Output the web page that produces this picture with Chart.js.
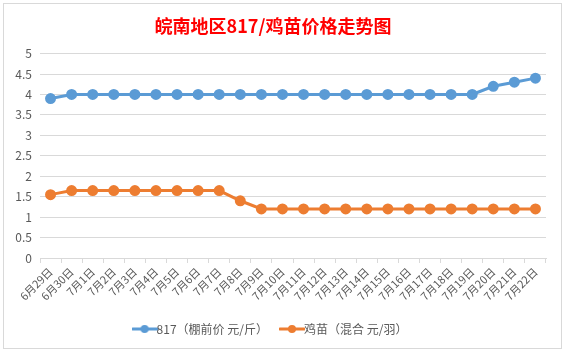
<!DOCTYPE html>
<html><head><meta charset="utf-8">
<script src="https://cdn.jsdelivr.net/npm/chart.js@4/dist/chart.umd.min.js"></script>
<style>html,body{margin:0;padding:0;background:#fff;}#wrap{width:563px;height:352px;}</style>
</head><body><div id="wrap"><canvas id="c" width="563" height="352"></canvas></div>
<script>
const categories = ["6月29日","6月30日","7月1日","7月2日","7月3日","7月4日","7月5日","7月6日","7月7日","7月8日","7月9日","7月10日","7月11日","7月12日","7月13日","7月14日","7月15日","7月16日","7月17日","7月18日","7月19日","7月20日","7月21日","7月22日"];
const price817 = [3.9,4,4,4,4,4,4,4,4,4,4,4,4,4,4,4,4,4,4,4,4,4.2,4.3,4.4];
const chickPrice = [1.55,1.65,1.65,1.65,1.65,1.65,1.65,1.65,1.65,1.4,1.2,1.2,1.2,1.2,1.2,1.2,1.2,1.2,1.2,1.2,1.2,1.2,1.2,1.2];
const seriesNames = ["817（棚前价 元/斤）","鸡苗（混合 元/羽）"];
const titleText = "皖南地区817/鸡苗价格走势图";
const FONT = "'Noto Sans CJK SC', 'Noto Sans', sans-serif";
const BLUE = "#5B9BD5", ORANGE = "#ED7D31";

function markerIcon(color){
  const cv = document.createElement('canvas'); cv.width = 26; cv.height = 10;
  const g = cv.getContext('2d');
  g.strokeStyle = color; g.lineWidth = 3; g.lineCap='round';
  g.beginPath(); g.moveTo(1,5); g.lineTo(25,5); g.stroke();
  g.fillStyle = color; g.beginPath(); g.arc(13,5,4,0,Math.PI*2); g.fill();
  return cv;
}
const borderPlugin = {
  id:'frame',
  beforeDraw(chart){
    const ctx = chart.ctx; ctx.save();
    ctx.fillStyle='#fff'; ctx.fillRect(0,0,chart.width,chart.height);
    ctx.strokeStyle='#d9d9d9'; ctx.lineWidth=1;
    ctx.strokeRect(3.5,3.5,558,345);
    ctx.restore();
  }
};
new Chart(document.getElementById('c'), {
  type:'line',
  data:{labels:categories, datasets:[
    {label:seriesNames[0], data:price817, borderColor:BLUE, backgroundColor:BLUE, borderWidth:3, pointRadius:4, pointHoverRadius:4, pointBackgroundColor:BLUE, pointBorderColor:BLUE, tension:0},
    {label:seriesNames[1], data:chickPrice, borderColor:ORANGE, backgroundColor:ORANGE, borderWidth:3, pointRadius:4, pointHoverRadius:4, pointBackgroundColor:ORANGE, pointBorderColor:ORANGE, tension:0}
  ]},
  options:{
    responsive:false, animation:false, devicePixelRatio:1,
    layout:{padding:{left:0,right:17,top:15,bottom:7}},
    plugins:{
      title:{display:true,text:titleText,color:'#FF0000',font:{family:FONT,size:18,weight:'bold'},padding:{top:0,bottom:17}},
      legend:{position:'bottom',labels:{usePointStyle:true,color:'#595959',font:{family:FONT,size:12},padding:18,
        generateLabels(chart){
          return chart.data.datasets.map((d,i)=>({text:d.label,fillStyle:d.borderColor,strokeStyle:d.borderColor,fontColor:'#595959',pointStyle:markerIcon(d.borderColor),datasetIndex:i,hidden:false,lineWidth:0}));
        }}},
      tooltip:{enabled:false}
    },
    scales:{
      x:{offset:true,
        grid:{display:true,drawOnChartArea:false,drawTicks:true,tickLength:5,color:'#d9d9d9',offset:true},
        border:{display:true,color:'#d9d9d9'},
        ticks:{autoSkip:false,minRotation:45,maxRotation:45,color:'#595959',font:{family:FONT,size:11},padding:2},
        afterFit(s){s.height=47;}
      },
      y:{min:0,max:5,
        grid:{color:'#d9d9d9',drawTicks:false},
        border:{display:false},
        ticks:{stepSize:0.5,color:'#595959',font:{family:FONT,size:12},padding:8,callback:(v)=>String(Math.round(v*10)/10)},
        afterFit(s){s.width=40;}
      }
    }
  },
  plugins:[borderPlugin]
});
</script></body></html>
